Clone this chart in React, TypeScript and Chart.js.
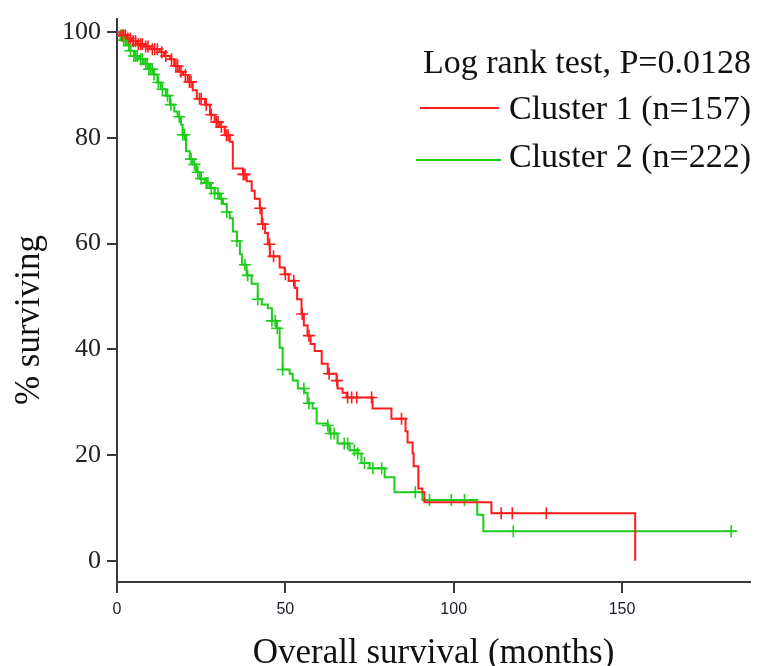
import React, { useEffect, useRef } from "react";
import { Chart, registerables } from "chart.js";

Chart.register(...registerables);

// ---- Data ----
const xTickValues = [0, 50, 100, 150];
const yTickValues = [0, 20, 40, 60, 80, 100];

const cluster1Times = [0, 1, 3, 4.5, 6, 8, 10, 12.7, 14, 15.7, 17, 18.5, 19.6, 21, 22.5, 23.7, 26.1, 27.6, 29, 30.5, 32, 33.5, 34.4, 37.4, 38.5, 40, 40.9, 42.4, 43, 44, 44.8, 45.4, 48.3, 49.8, 51, 52.8, 53.5, 54.8, 55.5, 56.6, 57.5, 58.7, 60.8, 62.6, 65.2, 65.5, 67, 68.2, 75.9, 81.5, 85.7, 86.3, 87.8, 88.1, 89.5, 90.7, 91.3, 111.2, 153.9];
const cluster1Surv = [100, 99.4, 98.8, 98.3, 97.7, 97.3, 96.8, 96.2, 95.5, 94.9, 93.6, 92.5, 91.9, 90.6, 89, 87.4, 86.3, 84.4, 83, 82.1, 80.5, 79.3, 74.2, 73.1, 71.8, 70, 68.5, 66.7, 63.7, 62, 59.9, 57.6, 55.5, 54.2, 53, 51.6, 49.5, 46.7, 44.5, 42.6, 41, 39.7, 37.3, 35.4, 34.1, 32.6, 31.8, 30.9, 28.8, 26.9, 24.5, 22.4, 20.3, 17.9, 13.7, 13.0, 11.1, 9.0, 0];
const cluster1Censored = [1.5, 2, 2.5, 3.2, 4, 4.8, 5.5, 6.3, 7, 7.5, 8.5, 9.2, 10.5, 11.2, 12, 13.3, 14.5, 16.2, 17.5, 18, 19, 20.3, 21.5, 22, 24.5, 25, 26.5, 28, 29.5, 30, 31, 32.5, 33, 37.5, 38, 42.5, 43.3, 45.3, 46.5, 50, 52.5, 55, 57, 63, 65.3, 68.5, 69.7, 71.2, 75.6, 84.5, 114.1, 117.4, 127.5];

const cluster2Times = [0, 1, 2, 3, 4, 5, 6.5, 8, 9.5, 11, 12, 13, 14.5, 15.7, 17, 18, 19, 19.5, 20.5, 21.6, 22.5, 23.5, 24.6, 26, 27.6, 29, 30.5, 31.5, 32.6, 33.5, 34.4, 35.6, 36.5, 37.1, 38.5, 40, 41.8, 43, 44.8, 46, 47.4, 48.3, 49.2, 51.3, 52.2, 53.7, 55.7, 56.6, 58.1, 59.3, 62.6, 63.1, 65.5, 69.1, 71.4, 72.6, 75, 79.5, 82.4, 90.7, 107, 108.8, 184];
const cluster2Surv = [100, 99.4, 98.5, 97.5, 96.5, 95.5, 94.9, 94, 93, 92, 90.5, 89.2, 88, 86.3, 85, 84, 82.5, 80.6, 77.5, 76, 75, 73.5, 72.3, 71.5, 70.5, 69.5, 68.5, 67.5, 66, 64.8, 62.3, 60.5, 58, 56, 54, 52.4, 49.5, 48.5, 47.8, 45.4, 44, 40.3, 36.2, 35.4, 34.1, 32.6, 31.8, 29.8, 28.8, 26, 25.6, 24.1, 22.2, 20.9, 20.3, 18.5, 17.5, 15.8, 13.0, 11.5, 8.7, 5.6, 5.6];
const cluster2Censored = [1, 1.5, 2, 2.5, 3.5, 4, 5, 5.5, 6, 7, 7.5, 8.5, 9, 9.5, 10, 10.5, 11, 12.3, 13.5, 15, 16, 18.5, 19.5, 20, 22, 23, 24, 25, 26.5, 27, 28, 29, 30, 31, 32.6, 35.6, 38, 38.8, 41.8, 46, 47, 47.6, 49.2, 55.5, 57, 62.6, 63.5, 64.5, 67.5, 68.5, 70.5, 71.5, 73.5, 76, 78.6, 88.6, 92.8, 99.3, 103.2, 117.7, 182.4];

const legendTitle = "Log rank test, P=0.0128";
const seriesLabels = ["Cluster 1 (n=157)", "Cluster 2 (n=222)"];
const xAxisTitle = "Overall survival (months)";
const yAxisTitle = "% surviving";

// ---- Styles ----
const RED = "rgb(255,28,28)";
const GREEN = "rgb(28,205,28)";
const AXIS = "#3a3a3a";
const TEXT = "#111";
const SERIF = '"Liberation Serif", "Times New Roman", serif';
const SANS = '"Liberation Sans", Arial, sans-serif';

function toSteps(times: number[], surv: number[]) {
  return times.map((t, i) => ({ x: t, y: surv[i] }));
}

function censorPoints(times: number[], surv: number[], censored: number[]) {
  return censored.map((c) => {
    let y = surv[0];
    for (let i = 0; i < times.length; i++) {
      if (times[i] <= c) y = surv[i];
    }
    return { x: c, y };
  });
}

const overlayPlugin = {
  id: "overlay",
  afterDraw(chart: any) {
    const { ctx } = chart;
    ctx.save();
    ctx.fillStyle = TEXT;
    ctx.font = `34px ${SERIF}`;
    ctx.textAlign = "right";
    ctx.textBaseline = "alphabetic";
    ctx.fillText(legendTitle, 751, 73);
    ctx.fillText(seriesLabels[0], 751, 119);
    ctx.fillText(seriesLabels[1], 751, 167);

    ctx.lineWidth = 2;
    ctx.strokeStyle = RED;
    ctx.beginPath();
    ctx.moveTo(420, 108);
    ctx.lineTo(499, 108);
    ctx.stroke();
    ctx.strokeStyle = GREEN;
    ctx.beginPath();
    ctx.moveTo(416, 160);
    ctx.lineTo(501, 160);
    ctx.stroke();

    // y axis title
    ctx.translate(30, 320);
    ctx.rotate(-Math.PI / 2);
    ctx.textAlign = "center";
    ctx.textBaseline = "middle";
    ctx.font = `35px ${SERIF}`;
    ctx.fillText(yAxisTitle, 0, 0);
    ctx.restore();
  },
};

export default function App() {
  const canvasRef = useRef<HTMLCanvasElement | null>(null);

  useEffect(() => {
    const canvas = canvasRef.current;
    if (!canvas) return;
    const chart = new Chart(canvas, {
      type: "line",
      data: {
        datasets: [
          {
            label: seriesLabels[0],
            data: toSteps(cluster1Times, cluster1Surv),
            borderColor: RED,
            borderWidth: 2,
            stepped: "before",
            pointRadius: 0,
            fill: false,
          },
          {
            label: seriesLabels[1],
            data: toSteps(cluster2Times, cluster2Surv),
            borderColor: GREEN,
            borderWidth: 2,
            stepped: "before",
            pointRadius: 0,
            fill: false,
          },
          {
            label: "c1 censored",
            data: censorPoints(cluster1Times, cluster1Surv, cluster1Censored),
            showLine: false,
            pointStyle: "cross",
            pointRadius: 6,
            pointBorderWidth: 1.6,
            pointBorderColor: RED,
            borderColor: RED,
          },
          {
            label: "c2 censored",
            data: censorPoints(cluster2Times, cluster2Surv, cluster2Censored),
            showLine: false,
            pointStyle: "cross",
            pointRadius: 6,
            pointBorderWidth: 1.6,
            pointBorderColor: GREEN,
            borderColor: GREEN,
          },
        ],
      },
      options: {
        animation: false,
        responsive: false,
        devicePixelRatio: 1,
        layout: { padding: { top: 1, right: 8, left: 0, bottom: 0 } },
        plugins: {
          legend: { display: false },
          tooltip: { enabled: false },
        },
        elements: { line: { tension: 0 } },
        scales: {
          x: {
            type: "linear",
            position: "bottom",
            min: 0,
            max: 188,
            afterFit: (s: any) => {
              s.height = 84;
            },
            afterBuildTicks: (s: any) => {
              s.ticks = xTickValues.map((v) => ({ value: v }));
            },
            ticks: {
              font: { family: SANS, size: 16 },
              color: "#1c1c2c",
              padding: 7,
              maxRotation: 0,
            },
            grid: {
              display: true,
              drawOnChartArea: false,
              drawTicks: true,
              tickLength: 11,
              color: AXIS,
              lineWidth: 2,
            },
            border: { display: true, color: AXIS, width: 2 },
            title: {
              display: true,
              text: xAxisTitle,
              font: { family: SERIF, size: 35, lineHeight: 0.7 },
              color: TEXT,
              padding: 0,
            },
          },
          y: {
            type: "linear",
            min: -4,
            max: 102.5,
            afterFit: (s: any) => {
              s.width = 117;
            },
            afterBuildTicks: (s: any) => {
              s.ticks = yTickValues.map((v) => ({ value: v }));
            },
            ticks: {
              font: { family: SERIF, size: 26, lineHeight: 1.0 },
              color: "#222",
              padding: 6,
            },
            grid: {
              display: true,
              drawOnChartArea: false,
              drawTicks: true,
              tickLength: 10,
              color: AXIS,
              lineWidth: 2,
            },
            border: { display: true, color: AXIS, width: 2 },
          },
        },
      },
      plugins: [overlayPlugin],
    });
    return () => chart.destroy();
  }, []);

  return (
    <div style={{ position: "fixed", left: 0, top: 0, width: 758, height: 666, background: "#fff" }}>
      <canvas ref={canvasRef} width={758} height={666} style={{ width: 758, height: 666 }} />
    </div>
  );
}
